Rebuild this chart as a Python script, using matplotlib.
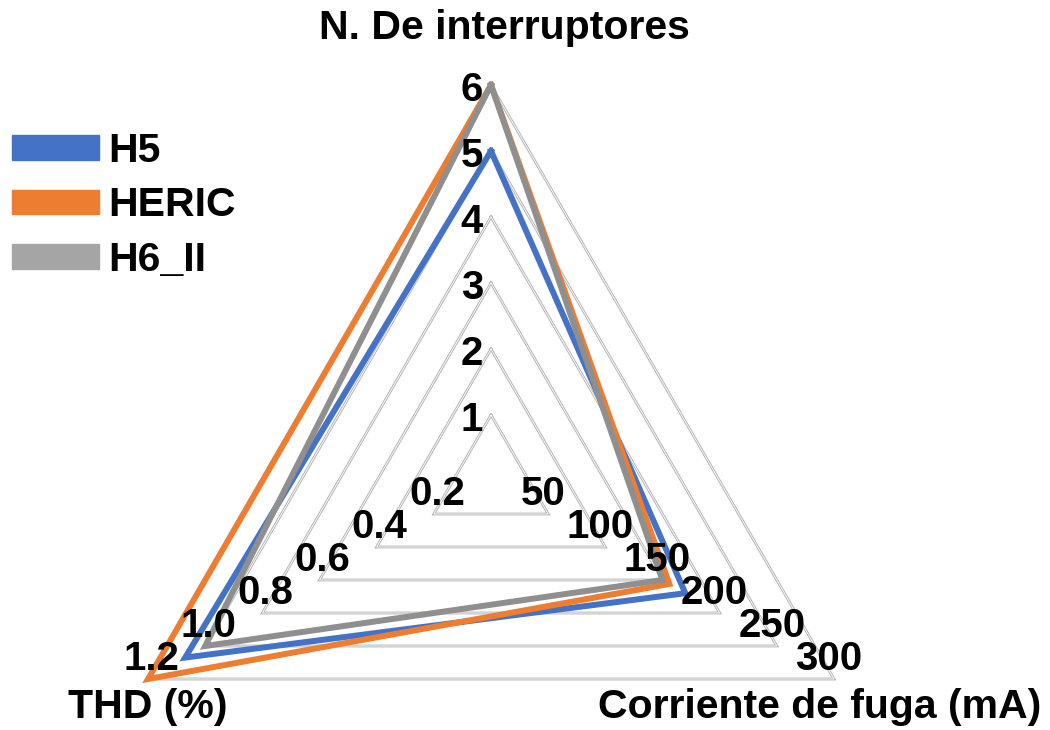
import numpy as np
import matplotlib
matplotlib.use("Agg")
import matplotlib.pyplot as plt
from matplotlib.patches import Patch

plt.rcParams['font.family'] = ['Liberation Sans', 'DejaVu Sans']

# ---- data ----
axes_names = ["N. De interruptores", "Corriente de fuga (mA)", "THD (%)"]
axes_max = [6, 300, 1.2]
ticks_n = ["1", "2", "3", "4", "5", "6"]
ticks_fuga = ["50", "100", "150", "200", "250", "300"]
ticks_thd = ["0.2", "0.4", "0.6", "0.8", "1.0", "1.2"]
series_names = ["H5", "HERIC", "H6_II"]
h5 = [5, 170, 1.07]
heric = [6, 156, 1.2]
h6_ii = [6, 150, 1.0]
colors = ["#4472C4", "#ED7D31", "#8F8F8F"]
legend_colors = ["#4472C4", "#ED7D31", "#A5A5A5"]

n_rings = 6
angles = np.deg2rad([90, -30, 210])

CX, CY, RPX = 491, 481, 396

fig = plt.figure(figsize=(10.5, 7.3), dpi=100)
ax = fig.add_axes([0, 0, 1, 1])
ax.set_xlim(-CX / RPX, (1050 - CX) / RPX)
ax.set_ylim(-(730 - CY) / RPX, CY / RPX)
ax.set_aspect('equal')
ax.axis('off')

def xy(r, ang):
    return r * np.cos(ang), r * np.sin(ang)

def pix(px, py):
    return (px - CX) / RPX, (CY - py) / RPX

# grid triangles
for k in range(1, n_rings + 1):
    r = k / n_rings
    px, py = xy(np.full(4, r), np.append(angles, angles[0]))
    ax.plot(px, py, color="#b4b4b4", lw=2.0, zorder=1, solid_joinstyle='miter')
    ax.plot(px, py, color="white", lw=0.6, zorder=1.1, solid_joinstyle='miter')

# series
for vals, c in zip([h5, heric, h6_ii], colors):
    r = np.array(vals) / np.array(axes_max)
    px, py = xy(np.append(r, r[0]), np.append(angles, angles[0]))
    ax.plot(px, py, color=c, lw=4.3, zorder=3, solid_joinstyle='miter')

fs_tick = 29
# tick labels
for k in range(n_rings):
    r = (k + 1) / n_rings
    x, y = xy(r, angles[0])
    ax.text(x - 8 / RPX, y - 5 / RPX, ticks_n[k], ha='right', va='center', fontsize=fs_tick,
            fontweight='bold', zorder=4)
    x, y = xy(r, angles[1])
    ax.text(x - 5 / RPX, y + 1 / RPX, ticks_fuga[k], ha='center', va='bottom', fontsize=fs_tick,
            fontweight='bold', zorder=4)
    x, y = xy(r, angles[2])
    ax.text(x + 3 / RPX, y + 1 / RPX, ticks_thd[k], ha='center', va='bottom', fontsize=fs_tick,
            fontweight='bold', zorder=4)

fs_lab = 29.5
ax.text(*pix(504, 28), axes_names[0], ha='center', va='center', fontsize=fs_lab, fontweight='bold')
ax.text(*pix(1041, 707), axes_names[1], ha='right', va='center',
        fontsize=fs_lab, fontweight='bold')
ax.text(*pix(148, 707), axes_names[2], ha='center', va='center',
        fontsize=fs_lab, fontweight='bold')

handles = [Patch(facecolor=c, edgecolor=c) for c in legend_colors]
leg = ax.legend(handles, series_names, loc='upper left',
                bbox_to_anchor=(12 / 1050, 1 - 132 / 730),
                frameon=False, handlelength=2.13, handleheight=0.55,
                labelspacing=0.4, handletextpad=0.22, borderaxespad=0.0, borderpad=0.0,
                prop={'weight': 'bold', 'size': fs_lab})

fig.savefig("out.png", dpi=100)
